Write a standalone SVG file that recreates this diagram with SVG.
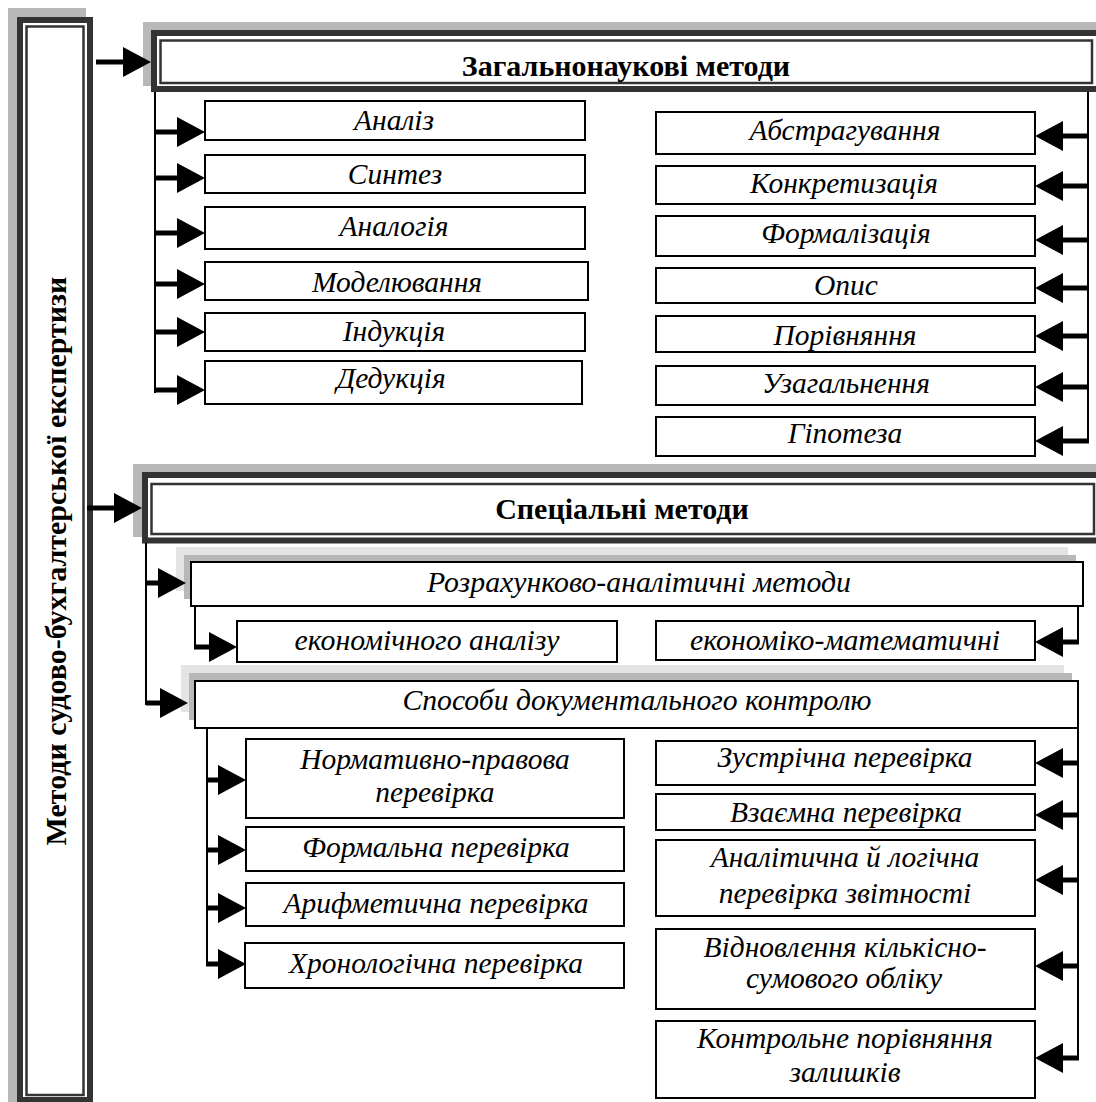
<svg xmlns="http://www.w3.org/2000/svg" width="1096" height="1102" viewBox="0 0 1096 1102">
<defs>
<style>
.bg{fill:#ffffff}
.box{fill:#ffffff;stroke:#000;stroke-width:2}
.sh1{fill:#b8b8b8}
.sh2{fill:#e4e4e4}
.frame{fill:#ffffff;stroke:#333;stroke-width:6}
.inner{fill:none;stroke:#333;stroke-width:2.5}
.t{font-family:"Liberation Serif","Times New Roman",serif;font-style:italic;font-size:29.5px;fill:#000;text-anchor:middle}
.h{font-family:"Liberation Serif","Times New Roman",serif;font-weight:bold;font-size:30px;fill:#000;text-anchor:middle}
.v{fill:none;stroke:#000;stroke-width:2}
.s{fill:none;stroke:#000;stroke-width:5;marker-end:url(#ah)}
</style>
<marker id="ah" markerUnits="userSpaceOnUse" markerWidth="30" markerHeight="32" viewBox="0 -16 30 32" refX="0" refY="0" orient="auto">
<path d="M0,-15 L28,0 L0,15 Z" fill="#000"/>
</marker>
</defs>
<rect class="bg" x="0" y="0" width="1096" height="1102"/>

<g id="root">
<rect class="sh1" x="8" y="8" width="78" height="1100"/>
<rect class="frame" x="20" y="20" width="70" height="1080"/>
<rect class="inner" x="26.5" y="26.5" width="57" height="1068.5"/>
<text class="h" transform="translate(66,561) rotate(-90)">Методи судово-бухгалтерської експертизи</text>
</g>

<g id="general">
<rect class="sh1" x="143" y="22" width="960" height="64"/>
<rect class="frame" x="154" y="33" width="946" height="56"/>
<rect class="inner" x="160.5" y="40.5" width="931.5" height="42.5"/>
<text class="h" x="626" y="76">Загальнонаукові методи</text>
</g>

<g id="n-analiz"><rect class="box" x="205" y="101" width="380" height="39"/><text class="t" x="394" y="130">Аналіз</text></g>
<g id="n-syntez"><rect class="box" x="205" y="155" width="380" height="38"/><text class="t" x="395" y="184">Синтез</text></g>
<g id="n-analogia"><rect class="box" x="205" y="207" width="380" height="42"/><text class="t" x="394" y="236">Аналогія</text></g>
<g id="n-modeliuvannia"><rect class="box" x="205" y="262" width="383" height="38"/><text class="t" x="397" y="292">Моделювання</text></g>
<g id="n-indukcia"><rect class="box" x="205" y="313" width="380" height="38"/><text class="t" x="394" y="341">Індукція</text></g>
<g id="n-dedukcia"><rect class="box" x="205" y="361" width="377" height="43"/><text class="t" x="391" y="388">Дедукція</text></g>

<g id="n-abstr"><rect class="box" x="656" y="112" width="379" height="42"/><text class="t" x="845" y="140">Абстрагування</text></g>
<g id="n-konkr"><rect class="box" x="656" y="166" width="379" height="38"/><text class="t" x="844" y="193">Конкретизація</text></g>
<g id="n-formal"><rect class="box" x="656" y="216" width="379" height="40"/><text class="t" x="846" y="243">Формалізація</text></g>
<g id="n-opys"><rect class="box" x="656" y="268" width="379" height="35"/><text class="t" x="846" y="295">Опис</text></g>
<g id="n-porivn"><rect class="box" x="656" y="316" width="379" height="36"/><text class="t" x="845" y="345">Порівняння</text></g>
<g id="n-uzag"><rect class="box" x="656" y="366" width="379" height="39"/><text class="t" x="846" y="393">Узагальнення</text></g>
<g id="n-hipot"><rect class="box" x="656" y="417" width="379" height="39"/><text class="t" x="845" y="443">Гіпотеза</text></g>

<g id="special">
<rect class="sh1" x="133" y="464" width="965" height="73"/>
<rect class="frame" x="145" y="475" width="955" height="65.5"/>
<rect class="inner" x="151.5" y="484" width="942.5" height="50"/>
<text class="h" x="622" y="519">Спеціальні методи</text>
</g>

<g id="n-rozrakh">
<rect class="sh2" x="176" y="547" width="892" height="44"/>
<rect class="sh1" x="184" y="555" width="892" height="44"/>
<rect class="box" x="191" y="562" width="892" height="44"/>
<text class="t" x="639" y="592" textLength="424" lengthAdjust="spacingAndGlyphs">Розрахунково-аналітичні методи</text>
</g>
<g id="n-ekan"><rect class="box" x="237" y="621" width="380" height="41"/><text class="t" x="427" y="650" textLength="265" lengthAdjust="spacingAndGlyphs">економічного аналізу</text></g>
<g id="n-ekmat"><rect class="box" x="656" y="621" width="379" height="39"/><text class="t" x="845" y="650" textLength="310" lengthAdjust="spacingAndGlyphs">економіко-математичні</text></g>

<g id="n-sposoby">
<rect class="sh2" x="181" y="665" width="883" height="47"/>
<rect class="sh1" x="189" y="673" width="883" height="47"/>
<rect class="box" x="195" y="681" width="883" height="47"/>
<text class="t" x="637" y="710" textLength="469" lengthAdjust="spacingAndGlyphs">Способи документального контролю</text>
</g>

<g id="n-normat"><rect class="box" x="246" y="739" width="378" height="79"/><text class="t"><tspan x="435" y="769">Нормативно-правова</tspan><tspan x="435" y="802">перевірка</tspan></text></g>
<g id="n-formalna"><rect class="box" x="246" y="827" width="378" height="44"/><text class="t" x="436" y="857">Формальна перевірка</text></g>
<g id="n-aryfm"><rect class="box" x="246" y="883" width="378" height="43"/><text class="t" x="436" y="913">Арифметична перевірка</text></g>
<g id="n-khron"><rect class="box" x="245" y="943" width="379" height="45"/><text class="t" x="436" y="973">Хронологічна перевірка</text></g>

<g id="n-zustr"><rect class="box" x="656" y="741" width="379" height="44"/><text class="t" x="845" y="767">Зустрічна перевірка</text></g>
<g id="n-vzaiem"><rect class="box" x="656" y="794" width="379" height="36"/><text class="t" x="846" y="822">Взаємна перевірка</text></g>
<g id="n-analit"><rect class="box" x="656" y="840" width="379" height="76"/><text class="t"><tspan x="845" y="867">Аналітична й логічна</tspan><tspan x="845" y="903">перевірка звітності</tspan></text></g>
<g id="n-vidnovl"><rect class="box" x="656" y="929" width="379" height="80"/><text class="t"><tspan x="845" y="957">Відновлення кількісно-</tspan><tspan x="844" y="988">сумового обліку</tspan></text></g>
<g id="n-kontr"><rect class="box" x="656" y="1021" width="379" height="77"/><text class="t"><tspan x="845" y="1048">Контрольне порівняння</tspan><tspan x="845" y="1082">залишків</tspan></text></g>

<g id="connectors">
<path class="s" d="M96,62 H123"/>
<path class="s" d="M87,508 H114"/>
<path class="v" d="M155,92 V393"/>
<path class="s" d="M155,132 H177"/>
<path class="s" d="M155,178 H177"/>
<path class="s" d="M155,233 H177"/>
<path class="s" d="M155,284 H177"/>
<path class="s" d="M155,332 H177"/>
<path class="s" d="M155,390 H177"/>
<path class="v" d="M1088,92 V443"/>
<path class="s" d="M1089,136 H1063"/>
<path class="s" d="M1089,186 H1063"/>
<path class="s" d="M1089,240 H1063"/>
<path class="s" d="M1089,288 H1063"/>
<path class="s" d="M1089,336 H1063"/>
<path class="s" d="M1089,387 H1063"/>
<path class="s" d="M1089,441 H1063"/>
<path class="v" d="M146,543 V705"/>
<path class="s" d="M146,583 H158"/>
<path class="s" d="M146,703 H160"/>
<path class="v" d="M195,606 V649"/>
<path class="s" d="M194,647 H209"/>
<path class="v" d="M1078,606 V644"/>
<path class="s" d="M1079,642 H1063"/>
<path class="v" d="M207,728 V966"/>
<path class="s" d="M206,780 H218"/>
<path class="s" d="M206,850 H218"/>
<path class="s" d="M206,908 H218"/>
<path class="s" d="M206,964 H218"/>
<path class="v" d="M1078,728 V1060"/>
<path class="s" d="M1079,763 H1063"/>
<path class="s" d="M1079,815 H1063"/>
<path class="s" d="M1079,880 H1063"/>
<path class="s" d="M1079,966 H1063"/>
<path class="s" d="M1079,1058 H1063"/>
</g>
</svg>
